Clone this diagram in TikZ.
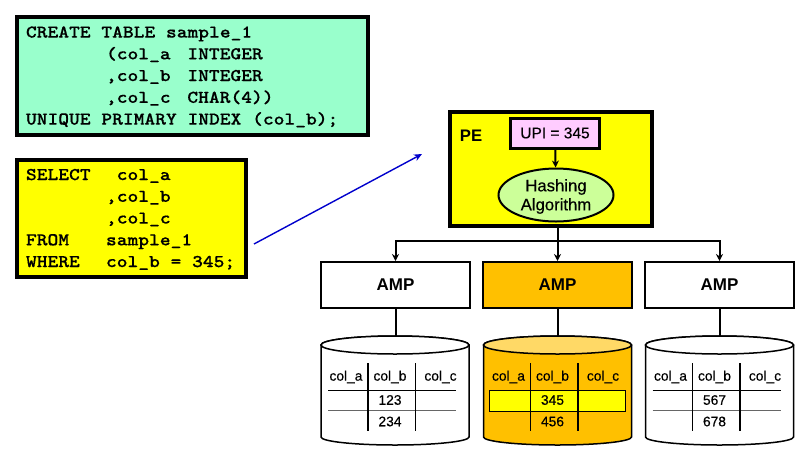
\documentclass[tikz,border=0pt]{standalone}
\usepackage{fontspec}
\setmainfont{Liberation Sans}
\setmonofont[FakeStretch=1.14, FakeBold=0.4]{Latin Modern Mono Light}
\newfontfamily\softbold[FakeBold=0.35]{Liberation Sans}
\usetikzlibrary{arrows.meta}
\usetikzlibrary{shapes.geometric}

\definecolor{codegreen}{HTML}{99FFCC}
\definecolor{codeyellow}{HTML}{FFFF00}
\definecolor{uppink}{HTML}{FFCCFF}
\definecolor{hashgreen}{HTML}{CCFF99}
\definecolor{ampgold}{HTML}{FFC000}
\definecolor{lidgold}{HTML}{FFD966}

\newcommand{\codetab}[2][80pt]{\makebox[#1][l]{#2}}
\newcommand{\codetop}{\spaceskip=10.75pt\relax\rule{0pt}{13pt}}

\tikzset{
  codebox/.style={draw, line width=3.6pt, anchor=north west, align=left, outer sep=0pt, inner xsep=9pt, inner ysep=0pt,
    font=\ttfamily\bfseries\fontsize{18}{21.75}\selectfont},
  ampbox/.style={draw, line width=2pt, minimum width=149pt, minimum height=46pt, font=\bfseries\fontsize{17}{20}\selectfont},
  hashtext/.style={font=\softbold\fontsize{16.7}{19}\selectfont, align=center, inner sep=0pt},
  cell/.style={font=\softbold\fontsize{13.8}{16}\selectfont, inner sep=0pt},
  flow/.style={line width=2pt, -{Stealth[length=7pt, width=7pt]}},
  stem/.style={line width=2pt},
  rule/.style={line width=1.3pt}
}

\begin{document}
\begin{tikzpicture}[x=1pt, y=-1pt]
  \useasboundingbox (0, 0) rectangle (806, 453);

  \node[codebox, fill=codegreen, text width=333pt, minimum height=118pt] (create) at (17, 17) {%
    \codetop CREATE TABLE sample\_1\\
    \codetab{}(col\_a\hspace{6pt} INTEGER\\
    \codetab{},col\_b\hspace{6pt} INTEGER\\
    \codetab{},col\_c\hspace{6pt} CHAR(4))\\
    UNIQUE PRIMARY INDEX (col\_b);};

  \node[codebox, fill=codeyellow, text width=211pt, minimum height=117pt] (select) at (17, 160) {%
    \codetop\codetab{SELECT}~col\_a\\
    \codetab{},col\_b\\
    \codetab{},col\_c\\
    \codetab{FROM}sample\_1\\
    \codetab{WHERE}col\_b = 345;};

  \coordinate (from) at (254, 244);
  \coordinate (to) at (422, 154);
  \draw[blue!80!black, line width=1.4pt, -{Stealth[length=8pt, width=7pt]}] (from) -- (to);

  % parsing engine
  \node[draw, fill=codeyellow, line width=3.4pt, minimum width=202pt, minimum height=114pt] (pe) at (551, 169) {};
  \node[font=\bfseries\fontsize{16.7}{20}\selectfont, inner sep=0pt] (pelabel) at (471, 136) {PE};
  \node[draw, fill=uppink, line width=3pt, minimum width=89pt, minimum height=30pt, font=\softbold\fontsize{15.5}{18}\selectfont] (upi) at (555, 133) {UPI = 345};
  \node[draw, ellipse, fill=hashgreen, line width=2pt, minimum width=115pt, minimum height=53pt, inner sep=0pt] (hash) at (556, 195) {};
  \node[hashtext] (hashlabel) at (556, 196.5) {Hashing\\Algorithm};
  \draw[flow] (upi) -- (hash);

  \foreach \i/\cx/\ampfill in {1/395.5/white, 2/557.5/ampgold, 3/719.5/white} {
    \node[ampbox, fill=\ampfill] (amp\i) at (\cx, 285) {AMP};
    \coordinate (disk\i) at (\cx, 336);
    \draw[stem] (amp\i) -- (disk\i);
  }

  \coordinate (bus) at (557.5, 241);
  \draw[flow] (pe.south -| bus) -- (amp2.north);
  \draw[flow] (bus) -| (amp1.north);
  \draw[flow] (bus) -| (amp3.north);

  \foreach \i/\cx/\bodyfill/\lidfill/\upper/\lower in {1/395/white/white/123/234, 2/557.5/ampgold/lidgold/345/456, 3/719.5/white/white/567/678} {
    \draw[line width=1.5pt, fill=\bodyfill] (\cx-74, 345) -- (\cx-74, 437) arc[start angle=180, end angle=360, x radius=74pt, y radius=8pt] -- (\cx+74, 345) arc[start angle=0, end angle=180, x radius=74pt, y radius=9pt] -- cycle;
    \draw[line width=1.5pt, fill=\lidfill] (\cx, 345) ellipse[x radius=74pt, y radius=9pt];
    \ifnum\i=2
      \draw[line width=1pt, fill=codeyellow] (\cx-68.5, 390.5) rectangle (\cx+68, 411);
    \else
      \draw[rule] (\cx-67, 390.5) -- (\cx+61, 390.5);
      \draw[rule, black!60, line width=1.8pt] (\cx-67, 410.5) -- (\cx+61, 410.5);
    \fi
    \draw[rule] (\cx-27, 363) -- (\cx-27, 431);
    \draw[rule] (\cx+20.5, 363) -- (\cx+20.5, 431);
    \node[cell] (cola\i) at (\cx-49, 377) {col\_a};
    \node[cell] (colb\i) at (\cx-5, 377) {col\_b};
    \node[cell] (colc\i) at (\cx+45.5, 377) {col\_c};
    \node[cell] (upper\i) at (\cx-5, 400) {\upper};
    \node[cell] (lower\i) at (\cx-5, 421.5) {\lower};
  }
\end{tikzpicture}
\end{document}
